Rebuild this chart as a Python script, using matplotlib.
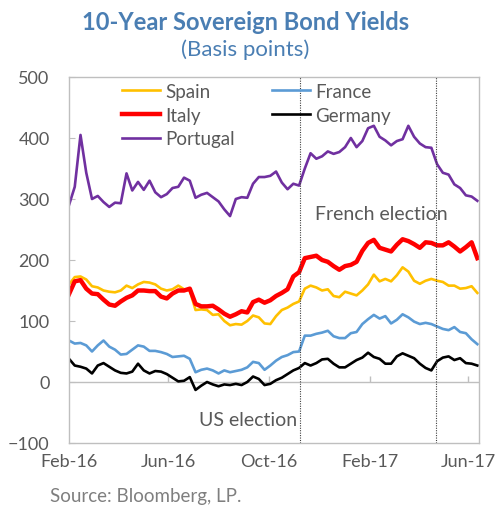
import matplotlib
matplotlib.use("Agg")
import matplotlib.pyplot as plt
import pandas as pd

plt.rcParams['font.family'] = ['Lato', 'DejaVu Sans']

# ---- data (weekly readings, basis points) ----
dates = pd.date_range('2016-02-01', periods=72, freq='7D')

spain = [160, 172, 173, 168, 157, 155, 150, 148, 147, 150, 158, 154, 160, 164, 163, 160, 153, 150,
         152, 158, 152, 150, 118, 119, 118, 110, 111, 100, 93, 95, 94, 100, 109, 106, 96, 95,
         108, 118, 122, 128, 132, 153, 158, 155, 150, 152, 141, 139, 148, 145, 142, 150, 160, 176,
         165, 169, 165, 175, 188, 181, 166, 161, 166, 169, 166, 164, 158, 158, 153, 154, 157, 146]

france = [68, 63, 64, 60, 50, 60, 68, 58, 53, 45, 46, 53, 60, 58, 51, 51, 49, 46,
          41, 42, 43, 38, 16, 20, 22, 19, 14, 19, 16, 18, 20, 24, 33, 31, 20, 27,
          35, 41, 44, 49, 50, 76, 76, 79, 81, 84, 75, 72, 72, 80, 82, 95, 103, 110,
          104, 108, 96, 102, 111, 106, 99, 95, 97, 95, 91, 87, 85, 90, 82, 80, 70, 62]

italy = [144, 165, 167, 153, 145, 144, 135, 127, 125, 132, 138, 142, 150, 150, 149, 149, 140, 137,
         145, 150, 150, 153, 128, 124, 124, 125, 119, 112, 107, 111, 116, 114, 131, 135, 130, 134,
         141, 146, 152, 173, 180, 203, 205, 207, 200, 197, 190, 184, 190, 192, 197, 215, 228, 233,
         220, 217, 214, 225, 234, 231, 226, 220, 229, 228, 224, 224, 229, 222, 214, 221, 229, 203]

germany = [38, 27, 25, 22, 14, 27, 31, 25, 19, 15, 14, 17, 30, 19, 14, 18, 17, 13,
           7, 1, 2, 8, -13, -6, 0, -4, -7, -4, -5, -3, -5, 0, 9, 5, -5, -3,
           3, 7, 13, 19, 23, 31, 27, 31, 37, 38, 30, 24, 24, 30, 36, 40, 48, 41,
           38, 30, 30, 42, 47, 43, 39, 30, 23, 19, 34, 40, 42, 36, 39, 31, 30, 27]

portugal = [290, 320, 405, 343, 300, 305, 295, 287, 294, 293, 342, 314, 328, 315, 330, 311, 303, 308,
            318, 320, 335, 330, 302, 307, 310, 303, 296, 283, 272, 300, 303, 302, 325, 336, 336, 338,
            345, 327, 316, 325, 322, 350, 375, 366, 370, 378, 374, 377, 385, 400, 385, 395, 416, 420,
            402, 396, 388, 395, 398, 420, 402, 391, 385, 384, 357, 343, 340, 324, 318, 306, 304, 297]

series_names = ['Spain', 'France', 'Italy', 'Germany', 'Portugal']
series_colors = ['#FFC000', '#5B9BD5', '#FF0000', '#000000', '#7030A0']
series_widths = [1.9, 1.9, 3.2, 1.9, 1.9]

tick_dates = pd.to_datetime(['2016-02-01', '2016-06-01', '2016-10-01', '2017-02-01', '2017-06-01'])
tick_labels = ['Feb-16', 'Jun-16', 'Oct-16', 'Feb-17', 'Jun-17']
event_dates = pd.to_datetime(['2016-11-08', '2017-04-23'])

# ---- figure ----
W, H = 497, 510
fig = plt.figure(figsize=(W / 100, H / 100), dpi=100)
ax = fig.add_axes([69 / W, 1 - 444 / H, (479 - 69) / W, (444 - 78) / H])

values = [spain, france, italy, germany, portugal]
handles = {}
for name, vals, col, lw in zip(series_names, values, series_colors, series_widths):
    ln, = ax.plot(dates, vals, color=col, lw=lw, label=name, solid_joinstyle='round')
    handles[name] = ln

ax.set_xlim(pd.Timestamp('2016-02-01'), pd.Timestamp('2017-06-14'))
ax.set_ylim(-100, 500)
ax.set_yticks(range(-100, 501, 100))

axis_gray = '#BFBFBF'
label_gray = '#595959'
for s in ax.spines.values():
    s.set_color(axis_gray)
    s.set_linewidth(1.0)

ax.tick_params(axis='y', direction='in', length=4, color=axis_gray, labelcolor=label_gray,
               labelsize=13, pad=14)
ax.set_xticks(tick_dates)
ax.set_xticklabels(tick_labels)
ax.tick_params(axis='x', length=0, labelcolor=label_gray, labelsize=13, pad=7)

# zero line with ticks
ax.axhline(0, color=axis_gray, lw=1.0, zorder=1)
ax.vlines(tick_dates[1:], 0, 10, color=axis_gray, lw=1.0, zorder=1)

# event lines
for d in event_dates:
    ax.axvline(d, color='#404040', lw=0.8, ls=(0, (1, 1.2)), zorder=3)

ax.text(pd.Timestamp('2016-11-27'), 276, 'French election', fontsize=14, color=label_gray,
        ha='left', va='center')
ax.text(pd.Timestamp('2016-11-05'), -62, 'US election', fontsize=14, color=label_gray,
        ha='right', va='center')

order = ['Spain', 'Italy', 'Portugal', 'France', 'Germany']
leg = fig.legend([handles[n] for n in order], order, loc='upper left',
                 bbox_to_anchor=(122 / W, 1 - 84 / H), ncol=2, frameon=False,
                 fontsize=13.5, handlelength=2.0, handletextpad=0.3, columnspacing=2.0,
                 labelspacing=0.36, borderpad=0, borderaxespad=0)
for t in leg.get_texts():
    t.set_color(label_gray)

title_blue = '#4A7EB3'
fig.text(0.494, 1 - 22 / H, '10-Year Sovereign Bond Yields', fontsize=17, fontweight='bold',
         color=title_blue, ha='center', va='center')
fig.text(0.494, 1 - 50 / H, '(Basis points)', fontsize=16, color=title_blue,
         ha='center', va='center')
fig.text(50 / W, 1 - 497 / H, 'Source: Bloomberg, LP.', fontsize=13.5, color='#7F7F7F',
         ha='left', va='center')

fig.savefig('out.png', dpi=100)
